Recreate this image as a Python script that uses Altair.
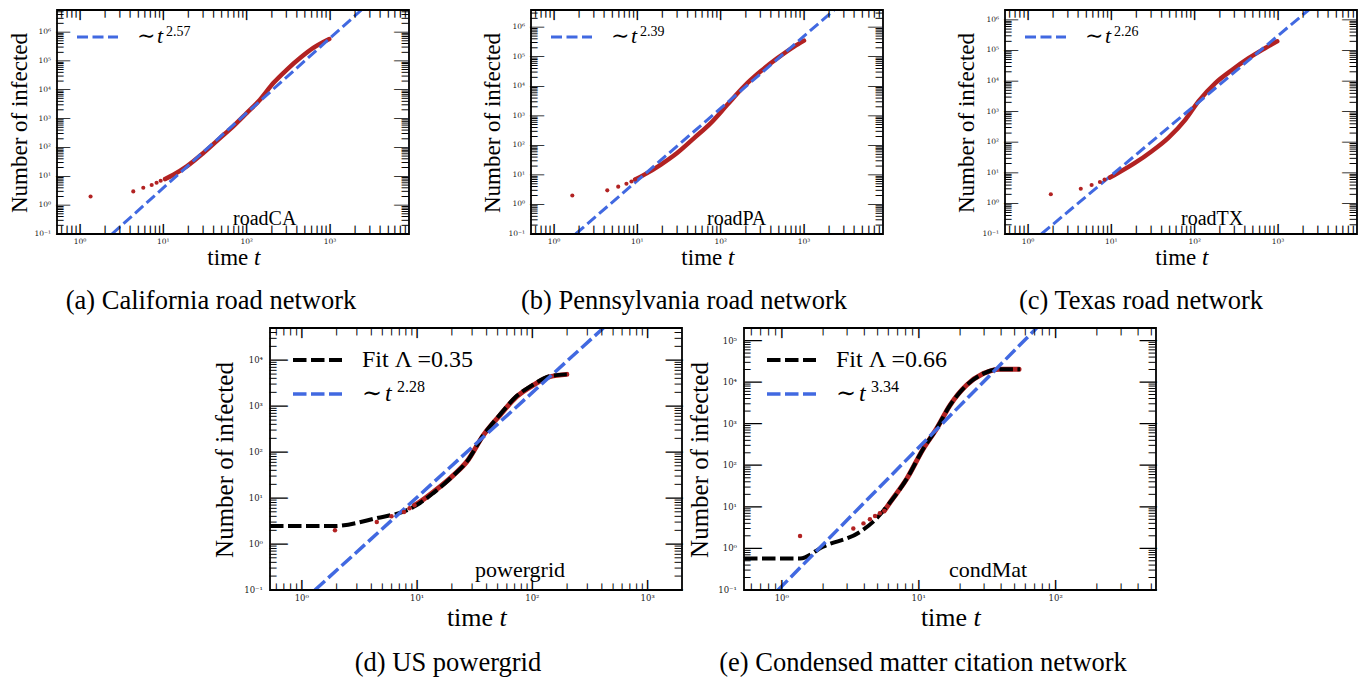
import math
import altair as alt
import pandas as pd

# ------------------------------------------------------------------ data
# (a) roadCA
a_dot_t = [1.34, 4.36, 5.75, 7.25, 8.3, 9.3, 10.5]
a_dot_n = [2, 3, 4, 5, 6, 7, 8]
a_cur_t = [10.5, 13.2, 19.1, 30.2, 47.9, 69, 100, 144.5, 209, 302, 437, 630, 980]
a_cur_n = [8, 11.3, 22, 64, 211, 540, 1550, 4500, 17000, 49000, 125000, 280000, 570000]
a_pow_t = [2.42, 2380]
a_pow_n = [0.1, 5.8e6]

# (b) roadPA
b_dot_t = [1.66, 4.36, 5.9, 7.4, 8.5, 9.4]
b_dot_n = [2, 3, 4, 5, 6, 7]
b_cur_t = [9.4, 12, 19, 30, 48, 76, 120, 190, 302, 480, 760, 1000]
b_cur_n = [7, 10, 22, 55, 176, 565, 2350, 9800, 32000, 89000, 220000, 350000]
b_pow_t = [1.82, 2300]
b_pow_n = [0.1, 3.8e6]

# (c) roadTX
c_dot_t = [1.88, 4.3, 5.8, 7.3, 8.3, 9.6]
c_dot_n = [2, 3, 4, 5, 6, 7]
c_cur_t = [9.6, 12, 19.2, 30.3, 48, 77, 111, 177, 280, 444, 705, 980]
c_cur_n = [7, 9.8, 21, 50, 137, 540, 2170, 8600, 23000, 56000, 120000, 200000]
c_pow_t = [1.45, 2330]
c_pow_n = [0.1, 2.1e6]

# (d) powergrid
d_dot_t = [1.94, 4.47, 6.0, 7.7, 8.6, 9.5]
d_dot_n = [2, 3, 4, 5, 6, 7]
d_cur_t = [9.5, 10.6, 13.9, 20.7, 27, 37.6, 52.5, 73, 102, 142, 199]
d_cur_n = [7, 8.3, 13.7, 31.6, 62, 234, 640, 1600, 2860, 4360, 4900]
d_fit_t = [0.53, 1.88, 4.47, 8.1, 10.6, 13.9, 20.7, 27, 37.6, 52.5, 73, 102, 142, 199]
d_fit_n = [2.46, 2.46, 3.67, 5.4, 7.8, 13, 31, 62, 234, 660, 1650, 2950, 4500, 4900]
d_pow_t = [1.3, 413]
d_pow_n = [0.1, 5e4]

# (e) condMat
e_dot_t = [1.36, 3.33, 3.95, 4.4, 4.8, 5.2, 5.6]
e_dot_n = [2, 3, 4, 5, 6, 7, 8]
e_cur_t = [5.6, 6.2, 8.2, 10.8, 13.5, 16.9, 22.4, 29.6, 39, 54]
e_cur_n = [8, 13, 48, 250, 760, 2760, 8500, 16000, 20500, 20500]
e_fit_t = [0.53, 1.36, 2.0, 3.73, 4.66, 6.2, 8.2, 10.8, 13.5, 16.9, 22.4, 29.6, 39, 55]
e_fit_n = [0.575, 0.575, 1.1, 2.5, 4.4, 13, 48, 250, 760, 2760, 8500, 16000, 20500, 20500]
e_pow_t = [0.94, 72.6]
e_pow_n = [0.1, 2e5]

names = ["roadCA", "roadPA", "roadTX", "powergrid", "condMat"]
captions = ["(a) California road network", "(b) Pennsylvania road network",
            "(c) Texas road network", "(d) US powergrid",
            "(e) Condensed matter citation network"]
exponents = ["2.57", "2.39", "2.26", "2.28", "3.34"]
fit_labels = [None, None, None, "Fit \u039b =0.35", "Fit \u039b =0.66"]

# ------------------------------------------------------------------ style
FONT = "Liberation Serif"
TFONT = "DejaVu Serif"
MONO = "DejaVu Sans Mono"
RED = "#b22222"
BLUE = "#4169e1"
SUP = str.maketrans("0123456789-", "\u2070\u00b9\u00b2\u00b3\u2074\u2075\u2076\u2077\u2078\u2079\u207b")


def lab(v):
    e = int(round(math.log10(v)))
    return "10" + str(e).translate(SUP)


def log_ticks(lo, hi):
    majors, minors = [], []
    for e in range(int(math.floor(math.log10(lo))) - 1, int(math.ceil(math.log10(hi))) + 1):
        for m in range(1, 10):
            v = m * 10.0 ** e
            if lo * (1 - 1e-9) <= v <= hi * (1 + 1e-9):
                (majors if m == 1 else minors).append(v)
    return majors, minors


def one():
    return pd.DataFrame({"k": [0]})


def txt(text, x, y, size, align="left", baseline="alphabetic", style="normal",
        font=FONT, angle=0, color="black"):
    kw = dict(text=text, font=font, fontSize=size, align=align, baseline=baseline,
              fontStyle=style, color=color)
    if angle:
        kw["angle"] = angle
    return alt.Chart(one()).mark_text(**kw).encode(x=alt.value(x), y=alt.value(y))


def tick_glyph(length):
    """box-drawing bar whose cell height equals the tick length"""
    fs = length / 1.164
    glyph = "\u2502" if fs >= 11 else "\u2503"
    return fs, glyph


def panel(p):
    W, H = p["w"], p["h"]
    s = p["s"]
    xs = alt.Scale(type="log", domain=p["xdom"], nice=False, zero=False)
    ys = alt.Scale(type="log", domain=p["ydom"], nice=False, zero=False)
    X = lambda f: alt.X(f, type="quantitative", scale=xs, axis=None)
    Y = lambda f: alt.Y(f, type="quantitative", scale=ys, axis=None)
    L = []

    # data lines
    cur = pd.DataFrame({"t": p["cur_t"], "n": p["cur_n"]})
    L.append(alt.Chart(cur).mark_line(color=RED, strokeWidth=s["rw"], clip=True,
                                      interpolate="monotone", strokeCap="round")
             .encode(x=X("t"), y=Y("n")))
    if p.get("fit_t"):
        fit = pd.DataFrame({"t": p["fit_t"], "n": p["fit_n"]})
        L.append(alt.Chart(fit).mark_line(color="black", strokeWidth=s["lw"] + 0.5,
                                          strokeDash=s["dash"], clip=True,
                                          interpolate="monotone")
                 .encode(x=X("t"), y=Y("n")))
    pw = pd.DataFrame({"t": p["pow_t"], "n": p["pow_n"]})
    L.append(alt.Chart(pw).mark_line(color=BLUE, strokeWidth=s["lw"], strokeDash=s["dash"],
                                     clip=True)
             .encode(x=X("t"), y=Y("n")))

    # frame
    L.append(alt.Chart(one()).mark_rect(fillOpacity=0, stroke="black", strokeWidth=1.8)
             .encode(x=alt.value(0), x2=alt.value(W), y=alt.value(0), y2=alt.value(H)))

    xmaj, xmin = log_ticks(*p["xdom"])
    ymaj, ymin = log_ticks(*p["ydom"])

    # tick labels
    xl = pd.DataFrame({"v": xmaj, "lab": [lab(v) for v in xmaj]})
    L.append(alt.Chart(xl).mark_text(font=TFONT, fontSize=s["tf"], baseline="top",
                                     align="center", color="#222")
             .encode(x=X("v"), y=alt.value(H + s["xlo"]), text="lab:N"))
    yl = pd.DataFrame({"v": ymaj, "lab": [lab(v) for v in ymaj]})
    L.append(alt.Chart(yl).mark_text(font=TFONT, fontSize=s["tf"], baseline="middle",
                                     align="right", color="#222")
             .encode(y=Y("v"), x=alt.value(-s["ylo"]), text="lab:N"))

    # inward ticks on all four sides (bar glyphs placed through the scales)
    for vals, ln in ((xmaj, s["xM"]), (xmin, s["xm"])):
        fs, g = tick_glyph(ln)
        for yc in (H - ln / 2, ln / 2):
            df = pd.DataFrame({"v": vals, "lab": [g] * len(vals)})
            L.append(alt.Chart(df).mark_text(font=MONO, fontSize=fs, baseline="middle",
                                             align="center", color="black")
                     .encode(x=X("v"), y=alt.value(yc + 0.046 * fs), text="lab:N"))
    for vals, ln in ((ymaj, s["yM"]), (ymin, s["ym"])):
        fs, g = tick_glyph(ln)
        for xc in (ln / 2, W - ln / 2):
            df = pd.DataFrame({"v": vals, "lab": [g] * len(vals)})
            L.append(alt.Chart(df).mark_text(font=MONO, fontSize=fs, baseline="middle",
                                             align="center", color="black", angle=90)
                     .encode(y=Y("v"), x=alt.value(xc - 0.046 * fs), text="lab:N"))

    # data dots
    dots = pd.DataFrame({"t": p["dot_t"], "n": p["dot_n"]})
    L.append(alt.Chart(dots).mark_circle(color=RED, size=s["ds"], opacity=1, clip=True)
             .encode(x=X("t"), y=Y("n")))

    # axis titles
    L.append(txt("Number of infected", p["ytx"], H / 2 + 1, s["yt"], align="center",
                 baseline="middle", angle=270))
    cx = W / 2 + 1
    L.append(txt("time", cx + s["xt"] * 0.62, H + s["xty"], s["xt"], align="right"))
    L.append(txt("t", cx + s["xt"] * 0.87, H + s["xty"], s["xt"], style="italic"))

    # legend
    lg = s["lg"]
    rows_l = []
    if p.get("fit_label"):
        rows_l.append(("black", p["fit_label"]))
    rows_l.append((BLUE, None))
    for i, (col, label) in enumerate(rows_l):
        yy = lg["y0"] + i * lg["dy"]
        L.append(alt.Chart(one()).mark_rule(color=col, strokeWidth=s["lw"] + (0.5 if col == "black" else 0),
                                            strokeDash=s["dash"])
                 .encode(x=alt.value(lg["x0"]), x2=alt.value(lg["x1"]), y=alt.value(yy)))
        base = yy + lg["bo"]
        if label:
            L.append(txt(label, lg["tx"], base, lg["fs"]))
        else:
            L.append(txt("\u223c", lg["tx"], base, lg["fs"], font="DejaVu Serif"))
            L.append(txt("t", lg["tx"] + lg["tdx"], base, lg["fs"], style="italic"))
            L.append(txt(p["expo"], lg["tx"] + lg["sdx"], base - lg["sup"], lg["ss"]))

    # network name + caption
    L.append(txt(p["name"], s["nx"], H - s["ny"], s["nf"]))
    L.append(txt(p["caption"], p["capx"], H + s["capy"], 26.5, align="center",
                 baseline="middle"))

    return alt.layer(*L).properties(width=W, height=H)


top_style = dict(rw=4.5, ds=17, lw=3, dash=[11, 4.5], xM=10, xm=8, yM=14, ym=7,
                 tf=7.5, xlo=4, ylo=6, yt=23, xt=23, xty=31, nf=20, nx=176, ny=9, capy=67,
                 lg=dict(y0=27, dy=34, x0=20, x1=61, tx=80, tdx=20, sdx=29, bo=6, fs=22,
                         ss=14, sup=7))
bot_style = dict(rw=5, ds=20, lw=3.5, dash=[13.5, 4.5], xM=10, xm=7, yM=17, ym=7,
                 tf=8.5, xlo=4, ylo=7, yt=25, xt=26, xty=36, nf=22, nx=205, ny=13, capy=73,
                 lg=dict(y0=32, dy=34, x0=23, x1=72, tx=92, tdx=23, sdx=35, bo=7, fs=24,
                         ss=16, sup=9))

cfgs = [
    dict(w=352, h=224, xdom=[0.53, 8870], ydom=[0.1, 5.8e6], s=top_style, ytx=-37.5,
         dot_t=a_dot_t, dot_n=a_dot_n, cur_t=a_cur_t, cur_n=a_cur_n,
         pow_t=a_pow_t, pow_n=a_pow_n, capx=154),
    dict(w=352, h=224, xdom=[0.53, 8870], ydom=[0.1, 3.8e6], s=top_style, ytx=-38,
         dot_t=b_dot_t, dot_n=b_dot_n, cur_t=b_cur_t, cur_n=b_cur_n,
         pow_t=b_pow_t, pow_n=b_pow_n, capx=153),
    dict(w=352, h=224, xdom=[0.53, 8870], ydom=[0.1, 2.1e6], s=top_style, ytx=-38,
         dot_t=c_dot_t, dot_n=c_dot_n, cur_t=c_cur_t, cur_n=c_cur_n,
         pow_t=c_pow_t, pow_n=c_pow_n, capx=136),
    dict(w=412, h=262, xdom=[0.53, 1984], ydom=[0.1, 5e4], s=bot_style, ytx=-45,
         dot_t=d_dot_t, dot_n=d_dot_n, cur_t=d_cur_t, cur_n=d_cur_n,
         fit_t=d_fit_t, fit_n=d_fit_n, pow_t=d_pow_t, pow_n=d_pow_n, capx=178),
    dict(w=412, h=262, xdom=[0.53, 540], ydom=[0.1, 2e5], s=bot_style, ytx=-44,
         dot_t=e_dot_t, dot_n=e_dot_n, cur_t=e_cur_t, cur_n=e_cur_n,
         fit_t=e_fit_t, fit_n=e_fit_n, pow_t=e_pow_t, pow_n=e_pow_n, capx=179),
]
for i, c in enumerate(cfgs):
    c["name"] = names[i]
    c["caption"] = captions[i]
    c["expo"] = exponents[i]
    c["fit_label"] = fit_labels[i]

P = [panel(c) for c in cfgs]

spacer = (alt.Chart(one()).mark_point(opacity=0)
          .encode(x=alt.value(0), y=alt.value(0))
          .properties(width=151, height=262))

# rows: with flush bounds, a nested row counts as zero-sized in the outer layout,
# so the outer spacing is the full offset from row top to row top.
top = alt.hconcat(P[0], P[1], P[2], spacing=122, bounds="flush")
bottom = alt.hconcat(spacer, P[3], P[4], spacing=62, bounds="flush")

chart = (alt.vconcat(top, bottom, spacing=318, bounds="flush")
         .properties(padding=0)
         .configure_view(strokeWidth=0))

chart.save("out.html", embed_options={"renderer": "svg", "actions": False})
